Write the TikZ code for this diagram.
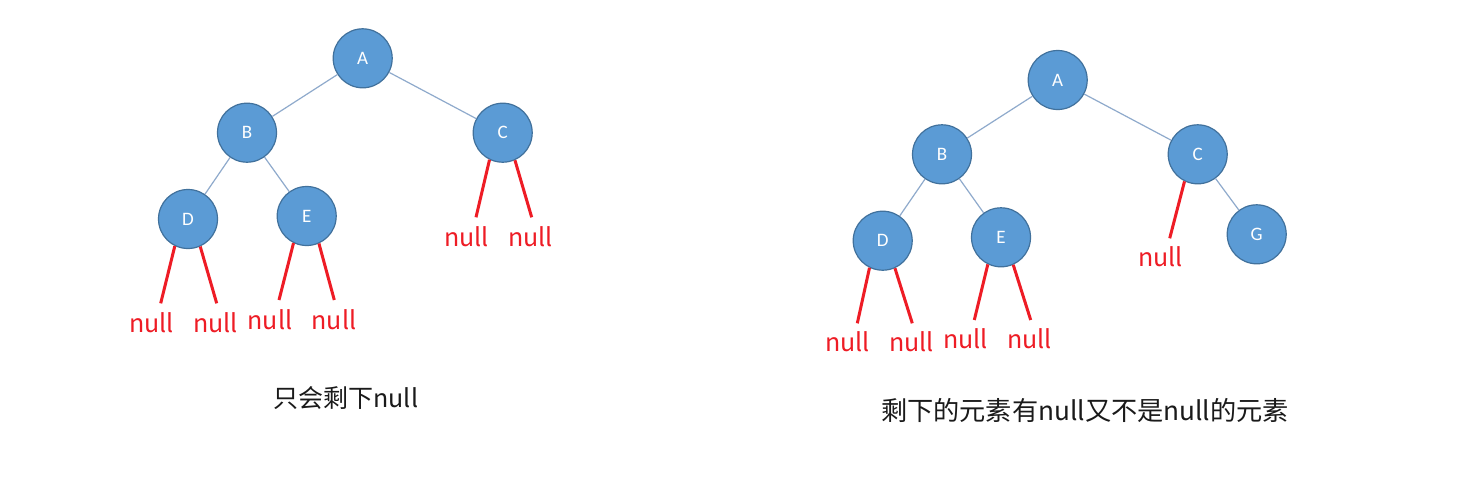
\documentclass[tikz,border=0pt]{standalone}
\usepackage{fontspec}
\setmainfont{Carlito}
\newfontfamily\cjk{Noto Sans CJK SC}
\definecolor{nodefill}{HTML}{5B9BD5}
\definecolor{nodeline}{HTML}{41719C}
\definecolor{edgecol}{HTML}{8FAACC}
\definecolor{nullred}{HTML}{EE1C25}
\definecolor{captxt}{HTML}{1A1A1A}
\tikzset{
  tnode/.style={circle, fill=nodefill, draw=nodeline, line width=1.2pt, minimum size=59pt, inner sep=0pt,
    text=white, font=\fontsize{19}{22}\selectfont},
  tedge/.style={draw=edgecol, line width=1.2pt},
  nullline/.style={draw=nullred, line width=3pt},
  nulltext/.style={text=nullred, font=\cjk\fontsize{25}{28}\selectfont, inner sep=0pt},
  caption/.style={text=captxt, font=\cjk\fontsize{25}{28}\selectfont, inner sep=0pt}
}
\begin{document}
\begin{tikzpicture}[x=1pt,y=-1pt]
\useasboundingbox (0,0) rectangle (1482,477);
\fill[white] (0,0) rectangle (1482,477);

% ---------- left tree ----------
\node[tnode] (lA) at (362.7,58.3) {A};
\node[tnode] (lB) at (247,132.7) {B};
\node[tnode] (lC) at (502.7,132.7) {C};
\node[tnode] (lD) at (188,219) {D};
\node[tnode] (lE) at (306.7,216) {E};
\draw[tedge] (lA) -- (lB);
\draw[tedge] (lA) -- (lC);
\draw[tedge] (lB) -- (lD);
\draw[tedge] (lB) -- (lE);

\coordinate (lD1) at (160.7,303.3);
\coordinate (lD2) at (216.7,303.3);
\coordinate (lE1) at (279,300);
\coordinate (lE2) at (334.3,300);
\coordinate (lC1) at (476,217.3);
\coordinate (lC2) at (531.7,217.3);
\draw[nullline] (lD.244) -- (lD1);
\draw[nullline] (lD.294) -- (lD2);
\draw[nullline] (lE.244) -- (lE1);
\draw[nullline] (lE.294) -- (lE2);
\draw[nullline] (lC.244) -- (lC1);
\draw[nullline] (lC.294) -- (lC2);
\node[nulltext] (lnD1) at (151.7,323) {null};
\node[nulltext] (lnD2) at (215.7,323) {null};
\node[nulltext] (lnE1) at (270,320) {null};
\node[nulltext] (lnE2) at (334,320) {null};
\node[nulltext] (lnC1) at (466.7,237) {null};
\node[nulltext] (lnC2) at (530.7,237) {null};

\node[caption] (lcap) at (345.8,398) {只会剩下null};

% ---------- right tree ----------
\node[tnode] (rA) at (1057.7,80) {A};
\node[tnode] (rB) at (942,154.3) {B};
\node[tnode] (rC) at (1197.7,154.3) {C};
\node[tnode] (rD) at (882.7,240.7) {D};
\node[tnode] (rE) at (1001,237.3) {E};
\node[tnode] (rG) at (1256.7,234.3) {G};
\draw[tedge] (rA) -- (rB);
\draw[tedge] (rA) -- (rC);
\draw[tedge] (rB) -- (rD);
\draw[tedge] (rB) -- (rE);
\draw[tedge] (rC) -- (rG);

\coordinate (rD1) at (857.3,323.3);
\coordinate (rD2) at (912.3,323.3);
\coordinate (rE1) at (974.3,320);
\coordinate (rE2) at (1030.7,320);
\coordinate (rC1) at (1169.7,238.3);
\draw[nullline] (rD.244) -- (rD1);
\draw[nullline] (rD.294) -- (rD2);
\draw[nullline] (rE.244) -- (rE1);
\draw[nullline] (rE.294) -- (rE2);
\draw[nullline] (rC.244) -- (rC1);
\node[nulltext] (rnD1) at (847.7,342) {null};
\node[nulltext] (rnD2) at (911.7,342) {null};
\node[nulltext] (rnE1) at (965.7,339) {null};
\node[nulltext] (rnE2) at (1029.3,339) {null};
\node[nulltext] (rnC1) at (1160.7,257) {null};

\node[caption, font=\cjk\fontsize{26.2}{30}\selectfont] (rcap) at (1085,410) {剩下的元素有null又不是null的元素};
\end{tikzpicture}
\end{document}
